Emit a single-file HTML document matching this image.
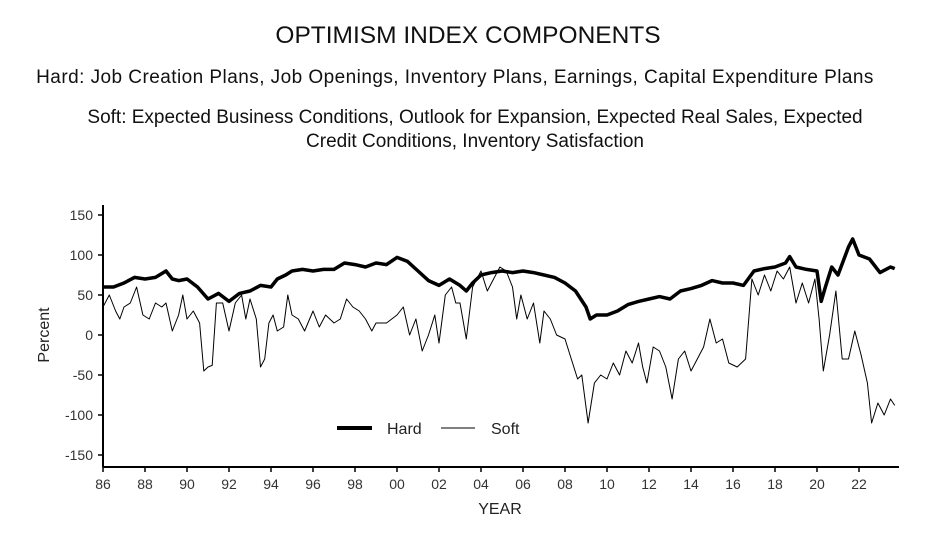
<!DOCTYPE html>
<html><head><meta charset="utf-8"><style>
body{margin:0;background:#fff;width:936px;height:541px;overflow:hidden;font-family:"Liberation Sans",sans-serif}
.t{position:absolute;left:0;width:936px;text-align:center;color:#111}
</style></head><body>
<div class="t" style="top:22px;font-size:24.5px">OPTIMISM INDEX COMPONENTS</div>
<div class="t" style="top:67px;font-size:19px;letter-spacing:0.45px;left:0;width:910px">Hard: Job Creation Plans, Job Openings, Inventory Plans, Earnings, Capital Expenditure Plans</div>
<div class="t" style="top:106px;font-size:19px;line-height:24px;left:0;width:950px">Soft: Expected Business Conditions, Outlook for Expansion, Expected Real Sales, Expected<br>Credit Conditions, Inventory Satisfaction</div>
<svg id="c" width="936" height="541" style="position:absolute;left:0;top:0"></svg>
<script>
const yTicks=[150,100,50,0,-50,-100,-150];
const xTickYears=[1986,1988,1990,1992,1994,1996,1998,2000,2002,2004,2006,2008,2010,2012,2014,2016,2018,2020,2022];
const xTickLabels=["86","88","90","92","94","96","98","00","02","04","06","08","10","12","14","16","18","20","22"];
const hardYears=[1986,1986.5,1987,1987.5,1988,1988.5,1989,1989.3,1989.6,1990,1990.5,1991,1991.5,1992,1992.5,1993,1993.5,1994,1994.3,1994.7,1995,1995.5,1996,1996.5,1997,1997.5,1998,1998.5,1999,1999.5,2000,2000.5,2001,2001.5,2002,2002.5,2003,2003.3,2003.6,2004,2004.5,2005,2005.5,2006,2006.5,2007,2007.5,2008,2008.5,2009,2009.2,2009.5,2010,2010.5,2011,2011.5,2012,2012.5,2013,2013.5,2014,2014.5,2015,2015.5,2016,2016.5,2017,2017.5,2018,2018.5,2018.7,2019,2019.5,2020,2020.2,2020.4,2020.7,2021,2021.5,2021.7,2022,2022.5,2023,2023.5,2023.7];
const hardValues=[60,60,65,72,70,72,80,70,68,70,60,45,52,42,52,55,62,60,70,75,80,82,80,82,82,90,88,85,90,88,97,92,80,68,62,70,62,55,65,75,78,80,78,80,78,75,72,65,55,35,20,25,25,30,38,42,45,48,45,55,58,62,68,65,65,62,80,83,85,90,98,85,82,80,42,60,85,75,110,120,100,95,78,85,83];
const softYears=[1986,1986.3,1986.6,1986.8,1987,1987.3,1987.6,1987.9,1988.2,1988.5,1988.8,1989,1989.3,1989.6,1989.8,1990,1990.3,1990.6,1990.8,1991,1991.2,1991.4,1991.7,1992,1992.3,1992.6,1992.8,1993,1993.3,1993.5,1993.7,1993.9,1994.1,1994.3,1994.6,1994.8,1995,1995.3,1995.6,1996,1996.3,1996.6,1997,1997.3,1997.6,1997.9,1998.2,1998.5,1998.8,1999,1999.5,2000,2000.3,2000.6,2000.9,2001.2,2001.5,2001.8,2002,2002.3,2002.6,2002.8,2003,2003.3,2003.6,2004,2004.3,2004.6,2004.9,2005.2,2005.5,2005.7,2005.9,2006.2,2006.5,2006.8,2007,2007.3,2007.6,2008,2008.3,2008.6,2008.8,2009.1,2009.4,2009.7,2010,2010.3,2010.6,2010.9,2011.2,2011.5,2011.7,2011.9,2012.2,2012.5,2012.8,2013.1,2013.4,2013.7,2014,2014.3,2014.6,2014.9,2015.2,2015.5,2015.8,2016.2,2016.6,2016.9,2017.2,2017.5,2017.8,2018.1,2018.4,2018.7,2019,2019.3,2019.6,2019.9,2020.1,2020.3,2020.6,2020.9,2021.2,2021.5,2021.8,2022.1,2022.4,2022.6,2022.9,2023.2,2023.5,2023.7];
const softValues=[35,50,30,20,35,40,60,25,20,40,35,40,5,25,50,20,30,15,-45,-40,-38,40,40,5,40,50,20,45,20,-40,-30,15,25,5,10,50,25,20,5,30,10,25,15,20,45,35,30,20,5,15,15,25,35,0,20,-20,0,25,-10,50,60,40,40,-5,60,80,55,70,85,80,60,20,50,20,40,-10,30,20,0,-5,-30,-55,-50,-110,-60,-50,-55,-35,-50,-20,-35,-10,-40,-60,-15,-20,-40,-80,-30,-20,-45,-30,-15,20,-10,-5,-35,-40,-30,70,50,75,55,80,70,85,40,65,40,70,20,-45,0,55,-30,-30,5,-25,-60,-110,-85,-100,-80,-88];
const NS="http://www.w3.org/2000/svg";
const svg=document.getElementById('c');
const X0=103,PX=21,Y0=335,PY=0.8;
function xs(yr){return X0+(yr-1986)*PX;}
function ys(v){return Y0-v*PY;}
function mk(tag,attrs,parent){const e=document.createElementNS(NS,tag);for(const k in attrs)e.setAttribute(k,attrs[k]);(parent||svg).appendChild(e);return e;}
let a=mk('line',{x1:X0,y1:205,x2:X0,y2:467,stroke:'#000','stroke-width':2});


a=mk('line',{x1:X0,y1:467,x2:899,y2:467,stroke:'#000','stroke-width':2});


yTicks.forEach(v=>{
  const y=ys(v);
  mk('line',{x1:X0-5,y1:y,x2:X0,y2:y,stroke:'#000','stroke-width':1.5});
  const t=mk('text',{x:X0-10,y:y+5,'text-anchor':'end','font-size':14,fill:'#333'});
  t.textContent=v;
  
  
});
xTickYears.forEach((yr,i)=>{
  const x=xs(yr);
  mk('line',{x1:x,y1:467,x2:x,y2:472,stroke:'#000','stroke-width':1.5});
  const t=mk('text',{x:x,y:489,'text-anchor':'middle','font-size':14,fill:'#333'});
  t.textContent=xTickLabels[i];
  
  
});
let t=mk('text',{x:500,y:514,'text-anchor':'middle','font-size':16,fill:'#222'});
t.textContent='YEAR';


t=mk('text',{x:0,y:0,'text-anchor':'middle','font-size':16,fill:'#222',transform:'translate(49,335) rotate(-90)'});
t.textContent='Percent';


function path(xsArr,vs,w,name){
  const d=xsArr.map((yr,i)=>(i?'L':'M')+xs(yr).toFixed(1)+','+ys(vs[i]).toFixed(1)).join('');
  const p=mk('path',{d:d,fill:'none',stroke:'#000','stroke-width':w,'stroke-linejoin':'round'});
  
  
}
path(softYears,softValues,1,'soft-line');
path(hardYears,hardValues,3.5,'hard-line');
let l=mk('line',{x1:337,y1:428,x2:372,y2:428,stroke:'#000','stroke-width':4});


t=mk('text',{x:387,y:434,'font-size':16,fill:'#222'});t.textContent='Hard';


l=mk('line',{x1:441,y1:428,x2:475,y2:428,stroke:'#000','stroke-width':1});


t=mk('text',{x:491,y:434,'font-size':16,fill:'#222'});t.textContent='Soft';


</script>
</body></html>
